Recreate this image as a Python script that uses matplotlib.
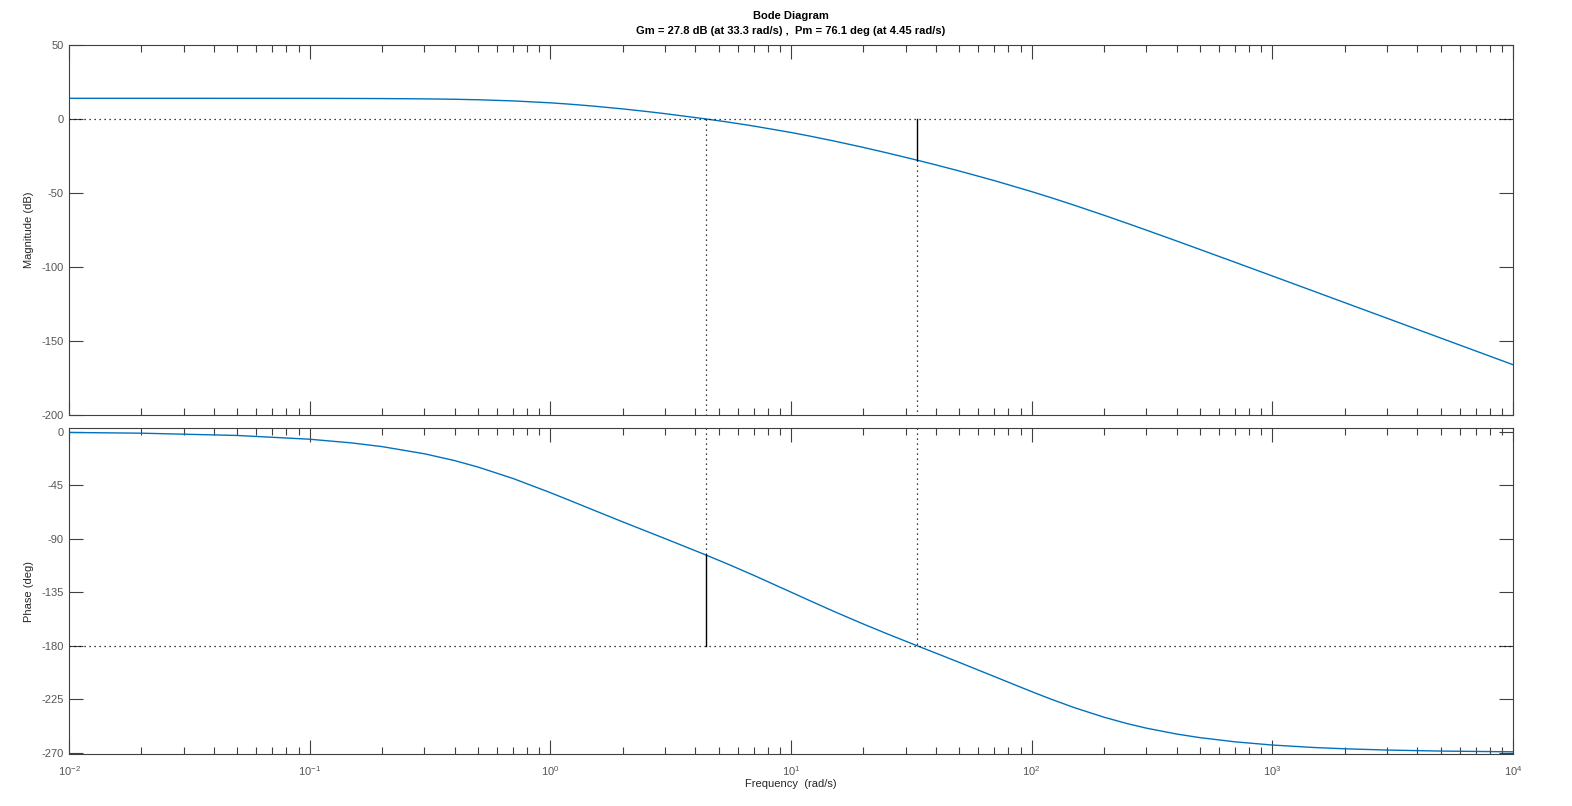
import numpy as np
import matplotlib.pyplot as plt
from matplotlib.ticker import LogLocator, NullFormatter

plt.rcParams['font.family'] = ['Liberation Sans', 'DejaVu Sans']
plt.rcParams['axes.unicode_minus'] = False
plt.rcParams['mathtext.default'] = 'regular'

# frequency points (rad/s)
freq = [0.01, 0.02, 0.05, 0.1, 0.15, 0.2, 0.3, 0.4, 0.5, 0.7, 1, 1.2, 1.5, 2, 2.5, 3,
        4.45, 5.5, 7, 10, 12, 15, 20, 25, 33.3, 40, 50, 70, 100, 120, 150, 200, 250,
        300, 400, 500, 700, 1000, 1500, 2000, 3000, 5000, 10000]
# magnitude (dB)
mag = [13.98, 13.98, 13.97, 13.94, 13.88, 13.81, 13.60, 13.33, 13.00, 12.23, 10.93,
       10.04, 8.76, 6.82, 5.11, 3.60, 0.0, -2.13, -4.76, -9.11, -11.57, -14.78, -19.21,
       -22.86, -27.75, -31.01, -35.12, -41.64, -49.07, -53.08, -58.20, -65.06, -70.55,
       -75.11, -82.40, -88.13, -96.81, -106.06, -116.60, -124.09, -134.65, -147.96, -166.02]
# phase (deg)
phase = [-0.64, -1.27, -3.18, -6.34, -9.48, -12.57, -18.59, -24.32, -29.72, -39.39, -51.28,
         -57.72, -65.70, -75.89, -83.67, -89.99, -103.9, -111.66, -120.86, -135.0, -142.27,
         -151.03, -161.88, -169.95, -180.0, -186.33, -194.11, -206.04, -218.72, -224.95,
         -232.12, -240.28, -245.68, -249.47, -254.39, -257.43, -260.97, -263.66, -265.77,
         -266.82, -267.88, -268.73, -269.37]

# stability margins
gm_freq, gm_mag = 33.3, -27.8
pm_freq, pm_phase = 4.45, -103.9

decades = [1e-2, 1e-1, 1e0, 1e1, 1e2, 1e3, 1e4]
mag_ticks = [50, 0, -50, -100, -150, -200]
phase_ticks = [0, -45, -90, -135, -180, -225, -270]

blue = '#0072BD'
axc = '#404040'
dot = (0, (1, 3))

fig = plt.figure(figsize=(15.72, 8.06), dpi=100)
ax1 = fig.add_axes([69/1572, 1-415/806, (1513-69)/1572, (415-45)/806])
ax2 = fig.add_axes([69/1572, 1-754/806, (1513-69)/1572, (754-428)/806])

#-----magnitude-----
ax1.semilogx(freq, mag, color=blue, lw=1)
ax1.axhline(0, color='k', ls=dot, lw=0.9)
ax1.plot([pm_freq, pm_freq], [0, -200], color='k', ls=dot, lw=0.9)
ax1.plot([gm_freq, gm_freq], [0, gm_mag], color='k', lw=1)
ax1.plot([gm_freq, gm_freq], [gm_mag, -200], color='k', ls=dot, lw=0.9)
ax1.set_ylim(-200, 50)
ax1.set_yticks(mag_ticks)

#-----phase-----
ax2.semilogx(freq, phase, color=blue, lw=1)
ax2.axhline(-180, color='k', ls=dot, lw=0.9)
ax2.plot([pm_freq, pm_freq], [3.1, pm_phase], color='k', ls=dot, lw=0.9)
ax2.plot([pm_freq, pm_freq], [pm_phase, -180], color='k', lw=1)
ax2.plot([gm_freq, gm_freq], [3.1, -180], color='k', ls=dot, lw=0.9)
ax2.set_ylim(-271.2, 3.1)
ax2.set_yticks(phase_ticks)

for ax in (ax1, ax2):
    ax.set_xlim(1e-2, 1e4)
    ax.set_xticks(decades)
    ax.xaxis.set_minor_locator(LogLocator(base=10, subs=np.arange(2, 10), numticks=20))
    ax.xaxis.set_minor_formatter(NullFormatter())
    # tick lengths in points: 10pt ~ 14px, 5pt ~ 7px
    ax.tick_params(which='major', direction='in', length=10, width=0.8, color=axc,
                   top=True, right=True, labelsize=8, labelcolor='#555555')
    ax.tick_params(which='minor', direction='in', length=5, width=0.8, color=axc,
                   top=True, right=True)
    ax.tick_params(axis='y', pad=4)
    for s in ax.spines.values():
        s.set_color(axc)
        s.set_linewidth(0.8)

ax1.tick_params(axis='x', labelbottom=False)
ax2.tick_params(axis='x', pad=7)

ax1.set_ylabel('Magnitude (dB)', fontsize=8, color='#262626')
ax2.set_ylabel('Phase (deg)', fontsize=8, color='#262626')
ax1.yaxis.set_label_coords(-0.024, 0.5)
ax2.yaxis.set_label_coords(-0.024, 0.5)
ax2.set_xlabel('Frequency  (rad/s)', fontsize=8, color='#262626', labelpad=1)

fig.text((69+1513)/2/1572, 1-16/806, 'Bode Diagram', ha='center', va='center',
         fontsize=8, fontweight='bold')
fig.text((69+1513)/2/1572, 1-31/806,
         'Gm = 27.8 dB (at 33.3 rad/s) ,  Pm = 76.1 deg (at 4.45 rad/s)',
         ha='center', va='center', fontsize=8, fontweight='bold')

fig.savefig('out.png', dpi=100)
